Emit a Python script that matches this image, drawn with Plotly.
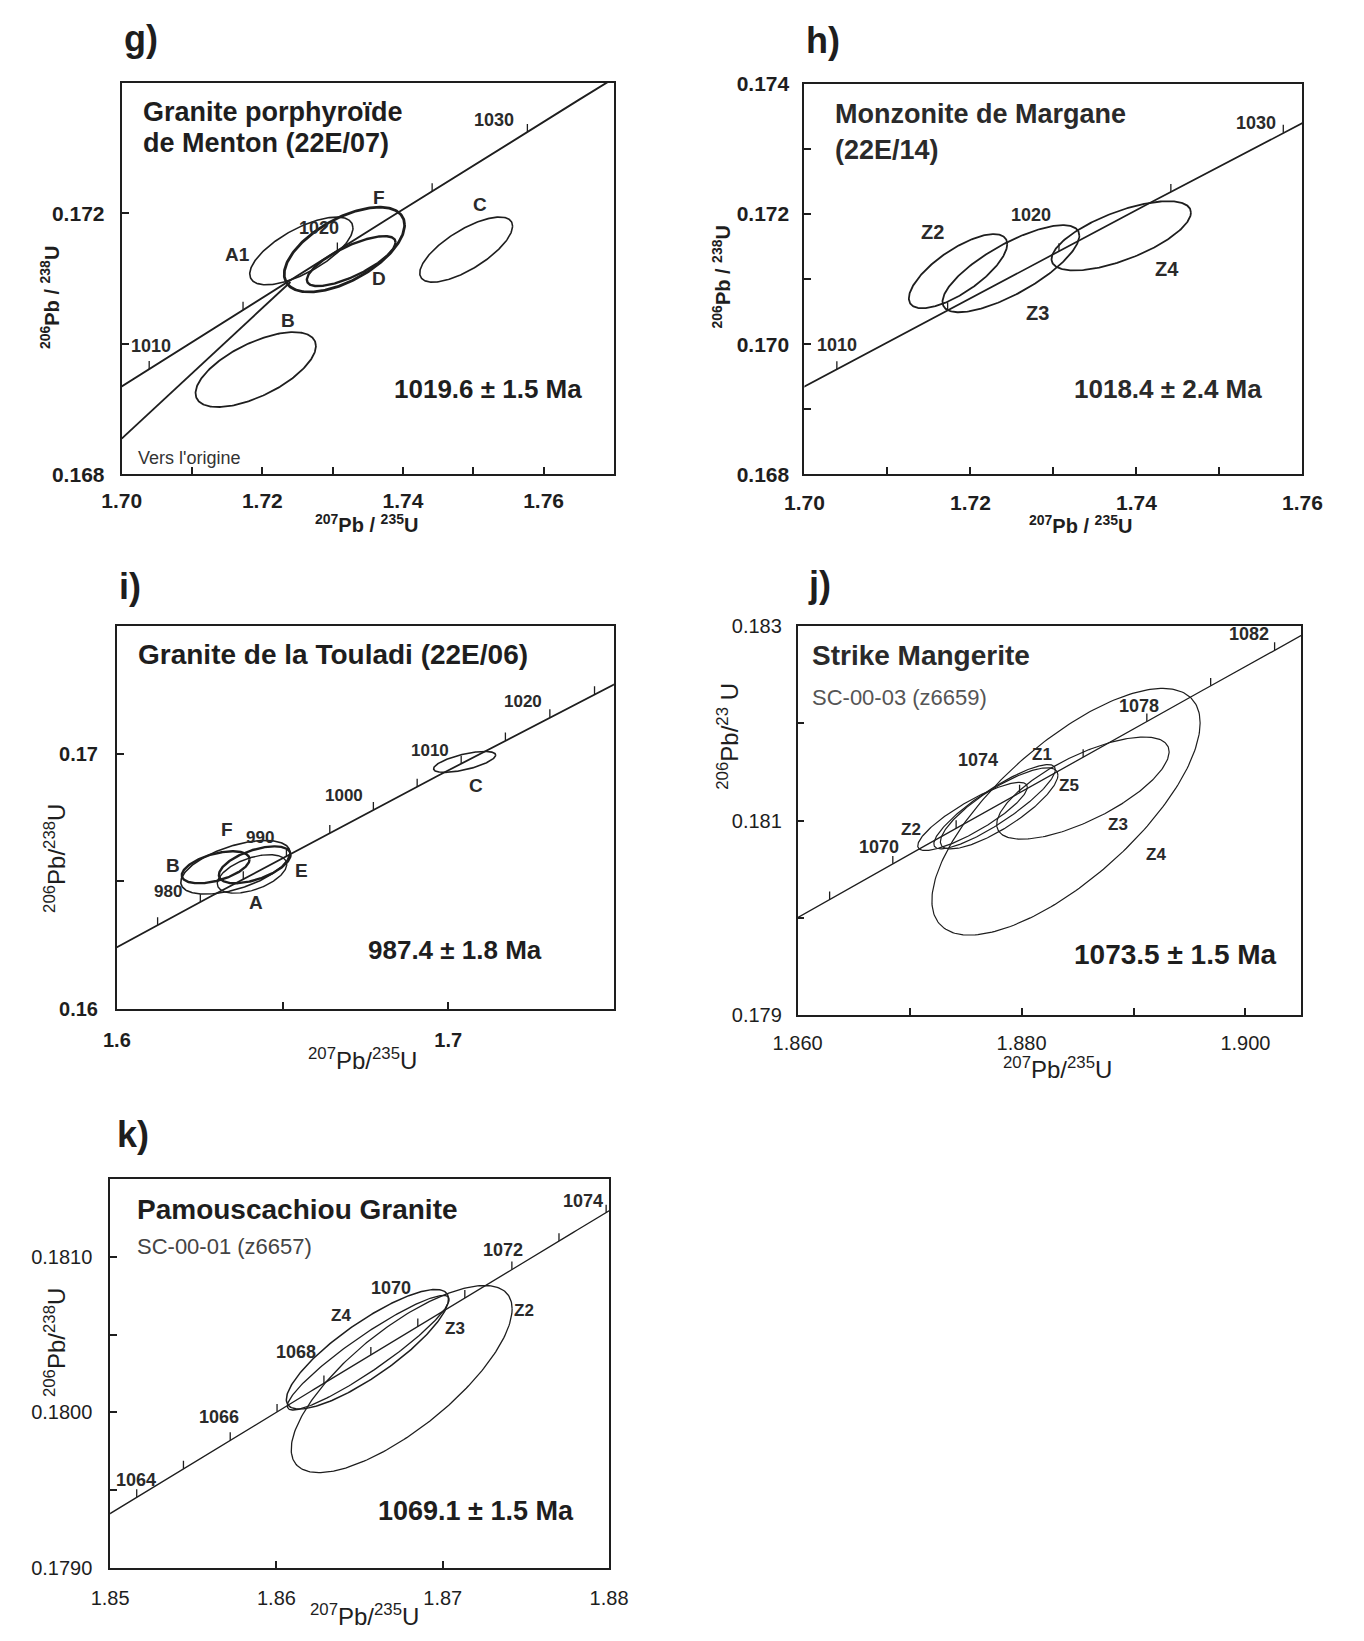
import numpy as np
import plotly.graph_objects as go

W, H = 1364, 1641
L238 = 1.55125e-10   # decay constants (per year)
L235 = 9.8485e-10
FONT = "Liberation Sans, Arial, Helvetica, sans-serif"
INK = "#1e1e1e"

# ======================= DATA =======================
# g) Granite porphyroide de Menton (22E/07)
g_names = ["A1", "F", "D", "B", "C"]
g_x = [1.72555, 1.73167, 1.73264, 1.71906, 1.74899]
g_sx = [0.00734, 0.00856, 0.00631, 0.00856, 0.00660]
g_y = [0.171426, 0.171446, 0.171270, 0.169607, 0.171446]
g_sy = [0.000519, 0.000650, 0.000383, 0.000574, 0.000499]
g_rho = [0.68, 0.58, 0.75, 0.63, 0.72]
g_ages = [1005, 1010, 1015, 1020, 1025, 1030, 1035]
g_age_labels = [1010, 1020, 1030]
g_disc_x = [1.700, 1.7240]
g_disc_y = [0.16855, 0.17095]
g_xticks = [1.70, 1.72, 1.74, 1.76]
g_xtext = ["1.70", "1.72", "1.74", "1.76"]
g_xminor = [1.71, 1.73, 1.75]
g_yticks = [0.168, 0.172]
g_ytext = ["0.168", "0.172"]
g_yminor = [0.170]

# h) Monzonite de Margane (22E/14)
h_names = ["Z2", "Z3", "Z4"]
h_x = [1.71851, 1.72488, 1.73817]
h_sx = [0.005927, 0.008244, 0.008398]
h_y = [0.171123, 0.171161, 0.171667]
h_sy = [0.000570, 0.000669, 0.000532]
h_rho = [0.73, 0.76, 0.67]
h_ages = [1005, 1010, 1015, 1020, 1025, 1030, 1035]
h_age_labels = [1010, 1020, 1030]
h_xticks = [1.70, 1.72, 1.74, 1.76]
h_xtext = ["1.70", "1.72", "1.74", "1.76"]
h_xminor = [1.71, 1.73, 1.75]
h_yticks = [0.168, 0.170, 0.172, 0.174]
h_ytext = ["0.168", "0.170", "0.172", "0.174"]
h_yminor = [0.169, 0.171, 0.173]

# i) Granite de la Touladi (22E/06)
i_names = ["B", "F", "E", "A", "C"]
i_x = [1.62982, 1.63576, 1.64161, 1.64079, 1.70495]
i_sx = [0.01023, 0.01647, 0.01082, 0.01048, 0.00937]
i_y = [0.16555, 0.16555, 0.165647, 0.16529, 0.169682]
i_sy = [0.000627, 0.001053, 0.000724, 0.000756, 0.000410]
i_rho = [0.50, 0.55, 0.55, 0.50, 0.65]
i_ages = [970, 975, 980, 985, 990, 995, 1000, 1005, 1010, 1015, 1020, 1025, 1030]
i_age_labels = [980, 990, 1000, 1010, 1020]
i_xticks = [1.60, 1.70]
i_xtext = ["1.6", "1.7"]
i_xminor = [1.65]
i_yticks = [0.160, 0.170]
i_ytext = ["0.16", "0.17"]
i_yminor = [0.165]

# j) Strike Mangerite SC-00-03 (z6659)
j_names = ["Z1", "Z2", "Z3", "Z4", "Z5"]
j_x = [1.87759, 1.87562, 1.88548, 1.88397, 1.87800]
j_sx = [0.005426, 0.004893, 0.007700, 0.011980, 0.005250]
j_y = [0.181142, 0.181042, 0.181334, 0.181090, 0.181125]
j_sy = [0.000434, 0.000351, 0.000526, 0.001270, 0.000418]
j_rho = [0.88, 0.86, 0.71, 0.72, 0.82]
j_ages = [1066, 1068, 1070, 1072, 1074, 1076, 1078, 1080, 1082, 1084]
j_age_labels = [1070, 1074, 1078, 1082]
j_xticks = [1.860, 1.880, 1.900]
j_xtext = ["1.860", "1.880", "1.900"]
j_xminor = [1.870, 1.890]
j_yticks = [0.179, 0.181, 0.183]
j_ytext = ["0.179", "0.181", "0.183"]
j_yminor = [0.180, 0.182]

# k) Pamouscachiou Granite SC-00-01 (z6657)
k_names = ["Z2", "Z3", "Z4"]
k_x = [1.86753, 1.86552, 1.86547]
k_sx = [0.006641, 0.004865, 0.004874]
k_y = [0.180215, 0.180385, 0.180407]
k_sy = [0.000602, 0.000369, 0.000385]
k_rho = [0.75, 0.93, 0.84]
k_ages = [1063, 1064, 1065, 1066, 1067, 1068, 1069, 1070, 1071, 1072, 1073, 1074, 1075]
k_age_labels = [1064, 1066, 1068, 1070, 1072, 1074]
k_xticks = [1.85, 1.86, 1.87, 1.88]
k_xtext = ["1.85", "1.86", "1.87", "1.88"]
k_xminor = []
k_yticks = [0.1790, 0.1800, 0.1810]
k_ytext = ["0.1790", "0.1800", "0.1810"]
k_yminor = [0.1795, 0.1805]

# ======================= STYLE / LAYOUT =======================
PANELS = [
    dict(letter="g)", letter_px=(100, 27), box=(100, 72, 609, 469),
         xr=[1.70, 1.77], yr=[0.168, 0.174], ages=g_ages, age_labels=g_age_labels,
         age_span=(995, 1045),
         age_off={1010: (2, 23), 1020: (-18, 22), 1030: (-33, 12)},
         ell=(g_names, g_x, g_sx, g_y, g_sy, g_rho), ell_w=[1.6, 2.8, 2.4, 1.8, 1.6],
         lab_pos={"A1": (1.71647, 0.171375), "F": (1.73664, 0.17225), "C": (1.75091, 0.17213),
                  "D": (1.73665, 0.170997), "B": (1.72367, 0.170353)},
         lab_size=19, age_size=18, conc_w=1.9,
         xt=(g_xticks, g_xtext, g_xminor), yt=(g_yticks, g_ytext, g_yminor),
         tick_bold=True, tick_size=21, xstand=6, ystand=11,
         xtitle="<sup>207</sup>Pb / <sup>235</sup>U", ytitle="<sup>206</sup>Pb / <sup>238</sup>U",
         title_bold=True, title_size=20, xtitle_px=(353, 519), ytitle_px=(26, 290),
         axis_w=2.0,
         texts=[("<b>Granite porphyroïde</b>", 120, 101, 27, INK),
                ("<b>de Menton (22E/07)</b>", 120, 133, 27, INK),
                ("<b>1019.6 ± 1.5 Ma</b>", 380, 382, 26, INK),
                ("Vers l'origine", 115, 452, 18, "#333")]),
    dict(letter="h)", letter_px=(806, 29), box=(806, 73, 1321, 469),
         xr=[1.70, 1.76], yr=[0.168, 0.174], ages=h_ages, age_labels=h_age_labels,
         age_span=(995, 1045),
         age_off={1010: (0, 24), 1020: (-28, 36), 1030: (-27, 10)},
         ell=(h_names, h_x, h_sx, h_y, h_sy, h_rho), ell_w=[1.8, 1.8, 1.8],
         lab_pos={"Z2": (1.71549, 0.171719), "Z3": (1.72803, 0.170477), "Z4": (1.74367, 0.171161)},
         lab_size=20, age_size=18, conc_w=1.7,
         xt=(h_xticks, h_xtext, h_xminor), yt=(h_yticks, h_ytext, h_yminor),
         tick_bold=True, tick_size=21, xstand=8, ystand=9,
         xtitle="<sup>207</sup>Pb / <sup>235</sup>U", ytitle="<sup>206</sup>Pb / <sup>238</sup>U",
         title_bold=True, title_size=20, xtitle_px=(1091, 520), ytitle_px=(720, 269),
         axis_w=2.0,
         texts=[("<b>Monzonite de Margane</b>", 836, 103, 27, "#2a2a2a"),
                ("<b>(22E/14)</b>", 836, 140, 27, "#2a2a2a"),
                ("<b>1018.4 ± 2.4 Ma</b>", 1083, 382, 26, "#2a2a2a")]),
    dict(letter="i)", letter_px=(95, 583), box=(95, 623, 609, 1011),
         xr=[1.60, 1.75], yr=[0.160, 0.175], ages=i_ages, age_labels=i_age_labels,
         age_span=(960, 1040),
         age_off={980: (-32, 11), 990: (-26, 18), 1000: (-29, 14), 1010: (-31, 13), 1020: (-27, 16)},
         ell=(i_names, i_x, i_sx, i_y, i_sy, i_rho), ell_w=[2.4, 1.6, 2.4, 1.4, 1.6],
         lab_pos={"B": (1.61706, 0.16563), "F": (1.63317, 0.16702), "E": (1.65585, 0.16543),
                  "A": (1.64212, 0.16417), "C": (1.70835, 0.16877)},
         lab_size=19, age_size=17, conc_w=1.8,
         xt=(i_xticks, i_xtext, i_xminor), yt=(i_yticks, i_ytext, i_yminor),
         tick_bold=True, tick_size=20, xstand=12, ystand=13,
         xtitle="<sup>207</sup>Pb/<sup>235</sup>U", ytitle="<sup>206</sup>Pb/<sup>238</sup>U",
         title_bold=False, title_size=24, xtitle_px=(349, 1062), ytitle_px=(31, 858),
         axis_w=1.8,
         texts=[("<b>Granite de la Touladi (22E/06)</b>", 115, 652, 28, INK),
                ("<b>987.4 ± 1.8 Ma</b>", 353, 951, 26, INK)]),
    dict(letter="j)", letter_px=(808, 581), box=(799, 623, 1320, 1017),
         xr=[1.860, 1.905], yr=[0.179, 0.183], ages=j_ages, age_labels=j_age_labels,
         age_span=(1060, 1090),
         age_off={1070: (-14, 17), 1074: (-42, 33), 1078: (-8, 15), 1082: (-26, 16)},
         ell=(j_names, j_x, j_sx, j_y, j_sy, j_rho), ell_w=[1.2, 1.2, 1.2, 1.2, 1.2],
         lab_pos={"Z1": (1.88181, 0.181677), "Z5": (1.88426, 0.181359), "Z3": (1.88858, 0.180958),
                  "Z4": (1.89203, 0.180647), "Z2": (1.87016, 0.180908)},
         lab_size=17, age_size=18, conc_w=1.3,
         xt=(j_xticks, j_xtext, j_xminor), yt=(j_yticks, j_ytext, j_yminor),
         tick_bold=False, tick_size=20, xstand=10, ystand=10,
         xtitle="<sup>207</sup>Pb/<sup>235</sup>U", ytitle="<sup>206</sup>Pb/<sup>23</sup> U",
         title_bold=False, title_size=24, xtitle_px=(1068, 1071), ytitle_px=(727, 735),
         axis_w=1.5,
         texts=[("<b>Strike Mangerite</b>", 812, 653, 28, "#2a2a2a"),
                ("SC-00-03 (z6659)", 812, 695, 22, "#555"),
                ("<b>1073.5 ± 1.5 Ma</b>", 1083, 956, 28, INK)]),
    dict(letter="k)", letter_px=(93, 1138), box=(88, 1184, 604, 1578),
         xr=[1.85, 1.88], yr=[0.1790, 0.1815], ages=k_ages, age_labels=k_age_labels,
         age_span=(1058, 1080),
         age_off={1064: (-1, 17), 1066: (-11, 23), 1068: (-28, 31), 1070: (-27, 38),
                  1072: (-9, 19), 1074: (-23, 12)},
         ell=(k_names, k_x, k_sx, k_y, k_sy, k_rho), ell_w=[1.3, 1.3, 1.5],
         lab_pos={"Z4": (1.86386, 0.180627), "Z3": (1.87073, 0.180541), "Z2": (1.87489, 0.180658)},
         lab_size=17, age_size=18, conc_w=1.3,
         xt=(k_xticks, k_xtext, k_xminor), yt=(k_yticks, k_ytext, k_yminor),
         tick_bold=False, tick_size=20, xstand=11, ystand=12,
         xtitle="<sup>207</sup>Pb/<sup>235</sup>U", ytitle="<sup>206</sup>Pb/<sup>238</sup>U",
         title_bold=False, title_size=24, xtitle_px=(351, 1626), ytitle_px=(31, 1349),
         axis_w=1.5,
         texts=[("<b>Pamouscachiou Granite</b>", 114, 1215, 28, INK),
                ("SC-00-01 (z6657)", 114, 1252, 22, "#444"),
                ("<b>1069.1 ± 1.5 Ma</b>", 363, 1520, 27, INK)]),
]


def concordia(age_ma):
    t = np.asarray(age_ma, dtype=float) * 1e6
    return np.exp(L235 * t) - 1.0, np.exp(L238 * t) - 1.0


def ellipse(cx, cy, sx, sy, rho, n=240):
    t = np.linspace(0, 2 * np.pi, n)
    return cx + sx * np.cos(t), cy + sy * (rho * np.cos(t) + np.sqrt(1 - rho ** 2) * np.sin(t))


fig = go.Figure()
annotations = []
layout_axes = {}

for n, P in enumerate(PANELS, start=1):
    sfx = "" if n == 1 else str(n)
    xa, ya = "x" + sfx, "y" + sfx
    x0, y0, x1, y1 = P["box"]
    pw, ph = x1 - x0, y1 - y0
    tick_font = dict(family=FONT, size=P["tick_size"], color=INK,
                     weight="bold" if P["tick_bold"] else "normal")
    common = dict(showline=True, mirror=True, linecolor=INK, linewidth=P["axis_w"],
                  ticks="inside", ticklen=7, tickwidth=1.5, tickcolor=INK,
                  showgrid=False, zeroline=False, tickfont=tick_font, fixedrange=True)
    layout_axes["xaxis" + sfx] = dict(
        domain=[x0 / W, x1 / W], range=P["xr"], anchor=ya,
        tickmode="array", tickvals=P["xt"][0], ticktext=P["xt"][1],
        minor=dict(tickmode="array", tickvals=P["xt"][2], ticks="inside", ticklen=7,
                   tickwidth=1.5, tickcolor=INK, showgrid=False),
        ticklabelstandoff=P["xstand"], **common)
    layout_axes["yaxis" + sfx] = dict(
        domain=[1 - y1 / H, 1 - y0 / H], range=P["yr"], anchor=xa,
        tickmode="array", tickvals=P["yt"][0], ticktext=P["yt"][1],
        minor=dict(tickmode="array", tickvals=P["yt"][2], ticks="inside", ticklen=7,
                   tickwidth=1.5, tickcolor=INK, showgrid=False),
        ticklabelstandoff=P["ystand"], **common)

    # concordia curve
    ages_curve = np.linspace(P["age_span"][0], P["age_span"][1], 300)
    cxv, cyv = concordia(ages_curve)
    fig.add_trace(go.Scatter(x=cxv, y=cyv, mode="lines", xaxis=xa, yaxis=ya,
                             line=dict(color=INK, width=P["conc_w"]), hoverinfo="skip",
                             showlegend=False))
    # age ticks on concordia (short upward marks)
    tick_len = 8 / ph * (P["yr"][1] - P["yr"][0])
    tx, ty = [], []
    ax_, ay_ = concordia(P["ages"])
    for a, xx, yy in zip(P["ages"], ax_, ay_):
        if P["xr"][0] < xx < P["xr"][1] and P["yr"][0] < yy < P["yr"][1] - tick_len:
            tx += [xx, xx, None]
            ty += [yy, yy + tick_len, None]
    fig.add_trace(go.Scatter(x=tx, y=ty, mode="lines", xaxis=xa, yaxis=ya,
                             line=dict(color=INK, width=1.3), hoverinfo="skip", showlegend=False))
    lx, ly = concordia(P["age_labels"])
    for a, xx, yy in zip(P["age_labels"], lx, ly):
        dx, dy = P["age_off"][a]
        annotations.append(dict(x=xx, y=yy, xref=xa, yref=ya, text=f"<b>{a}</b>", showarrow=False,
                                xshift=dx, yshift=dy, xanchor="center", yanchor="middle",
                                font=dict(family=FONT, size=P["age_size"], color="#2a2a2a")))

    # discordia in g
    if n == 1:
        fig.add_trace(go.Scatter(x=g_disc_x, y=g_disc_y, mode="lines", xaxis=xa, yaxis=ya,
                                 line=dict(color=INK, width=1.8), hoverinfo="skip", showlegend=False))

    # error ellipses
    names, exs, esx, eys, esy, erho = P["ell"]
    for k_, nm in enumerate(names):
        ex, ey = ellipse(exs[k_], eys[k_], esx[k_], esy[k_], erho[k_])
        fig.add_trace(go.Scatter(x=ex, y=ey, mode="lines", xaxis=xa, yaxis=ya,
                                 line=dict(color=INK, width=P["ell_w"][k_]), hoverinfo="skip",
                                 showlegend=False))
        px_, py_ = P["lab_pos"][nm]
        annotations.append(dict(x=px_, y=py_, xref=xa, yref=ya, text=f"<b>{nm}</b>", showarrow=False,
                                xanchor="center", yanchor="middle",
                                font=dict(family=FONT, size=P["lab_size"], color="#2a2a2a")))

    # panel letter
    lxp, lyp = P["letter_px"]
    annotations.append(dict(x=lxp / W, y=1 - lyp / H, xref="paper", yref="paper",
                            text=f"<b>{P['letter']}</b>", showarrow=False,
                            xanchor="left", yanchor="middle",
                            font=dict(family=FONT, size=36, color=INK)))
    # free texts
    for txt, tx_, ty_, fs, col in P["texts"]:
        annotations.append(dict(x=tx_ / W, y=1 - ty_ / H, xref="paper", yref="paper", text=txt,
                                showarrow=False, xanchor="left", yanchor="middle",
                                font=dict(family=FONT, size=fs, color=col)))
    # axis titles
    wt = "bold" if P["title_bold"] else "normal"
    xt_, yt_ = P["xtitle_px"]
    annotations.append(dict(x=xt_ / W, y=1 - yt_ / H, xref="paper", yref="paper",
                            text=P["xtitle"], showarrow=False, xanchor="center", yanchor="middle",
                            font=dict(family=FONT, size=P["title_size"], color=INK, weight=wt)))
    xt_, yt_ = P["ytitle_px"]
    annotations.append(dict(x=xt_ / W, y=1 - yt_ / H, xref="paper", yref="paper",
                            text=P["ytitle"], showarrow=False, xanchor="center", yanchor="middle",
                            textangle=-90,
                            font=dict(family=FONT, size=P["title_size"], color=INK, weight=wt)))

fig.update_layout(width=W, height=H, margin=dict(l=0, r=0, t=0, b=0),
                  paper_bgcolor="white", plot_bgcolor="white", showlegend=False,
                  annotations=annotations, **layout_axes)
fig.write_html("out.html", config={"displayModeBar": False},
               post_script="document.body.style.margin='0px';document.body.style.overflow='hidden';")
